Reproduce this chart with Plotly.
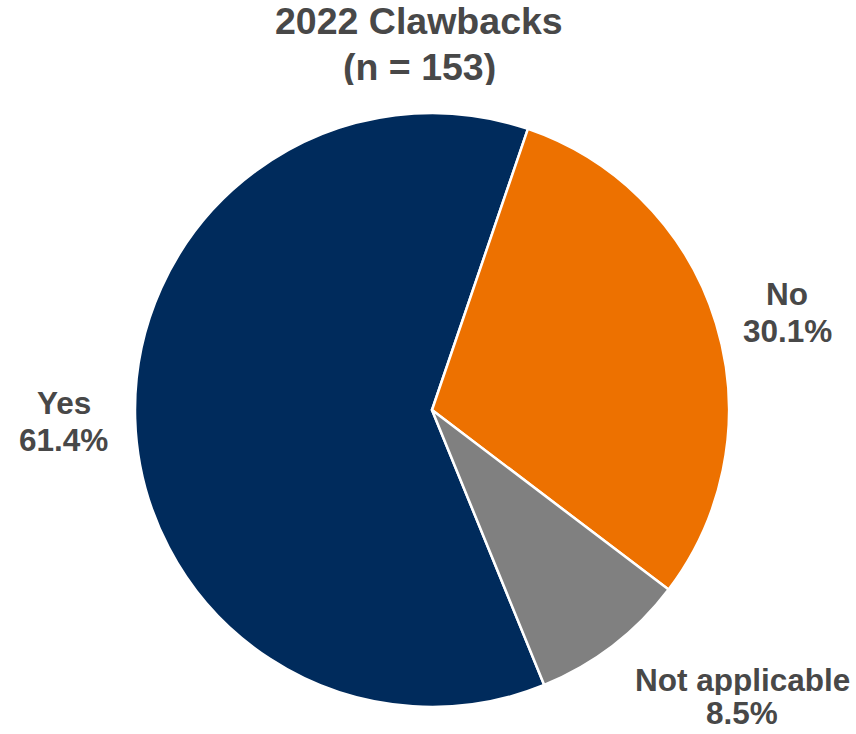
import plotly.graph_objects as go

categories = ["Yes", "No", "Not applicable"]
values = [61.4, 30.1, 8.5]
colors = ["#002B5C", "#ED7100", "#808080"]
title_lines = ["2022 Clawbacks", "(n = 153)"]

W, H = 856, 734
cx, cy, r = 432, 410, 297

fig = go.Figure(go.Pie(
    labels=categories,
    values=values,
    sort=False,
    direction="clockwise",
    rotation=157.8,
    marker=dict(colors=colors, line=dict(color="white", width=2.5)),
    textinfo="none",
    hoverinfo="label+percent",
    showlegend=False,
    domain=dict(x=[(cx - r) / W, (cx + r) / W], y=[1 - (cy + r) / H, 1 - (cy - r) / H]),
))

FONT = "Liberation Sans, Arial, sans-serif"
TXT = "#484848"

def add_text(txt, px, py, size, box_h):
    fig.add_annotation(
        x=px / W, y=1 - py / H, xref="paper", yref="paper",
        text=f"<b>{txt}</b>", showarrow=False,
        xanchor="center", yanchor="middle", align="center", valign="middle",
        height=box_h,
        font=dict(family=FONT, size=size, color=TXT),
    )

label_pos = {"Yes": (64, 403, 440), "No": (787, 294, 331), "Not applicable": (742, 680, 713)}
for cat, val in zip(categories, values):
    px, py1, py2 = label_pos[cat]
    add_text(cat, px, py1, 31.5, 30)
    add_text(f"{val:.1f}%", px, py2, 31.5, 30)

add_text(title_lines[0], 419, 21, 37.5, 36)
add_text(title_lines[1], 419, 67, 37.5, 36)

fig.update_layout(
    width=W, height=H,
    margin=dict(l=0, r=0, t=0, b=0),
    paper_bgcolor="white", plot_bgcolor="white",
)

fig.write_html("out.html")
